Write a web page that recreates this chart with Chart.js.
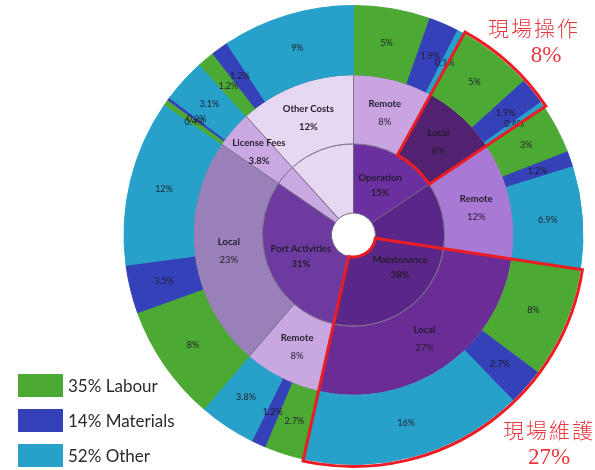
<!DOCTYPE html>
<html lang="zh-Hant">
<head>
<meta charset="UTF-8">
<title>Cost breakdown</title>
<script src="https://cdn.jsdelivr.net/npm/chart.js"></script>
<style>
  body { margin: 0; background: #fff; }
  #wrap { position: relative; width: 595px; height: 470px; overflow: hidden; }
  #chart { position: absolute; left: 0; top: 0; }
  #legend { position: absolute; left: 18px; top: 373px; font-family: Lato, "Open Sans", sans-serif; font-size: 17px; color: #2b2b2b; }
  .item { display: flex; align-items: center; height: 24px; margin-bottom: 11px; }
  .box { width: 45px; height: 23px; margin-right: 5px; }
  .note { position: absolute; color: #e8363e; text-align: center; line-height: 1; }
  .note .zh { font-family: "Noto Sans CJK TC", sans-serif; font-weight: 300; font-size: 21px; letter-spacing: 2px; }
  .note .pc { font-family: "Liberation Serif", serif; font-size: 23px; margin-top: 5px; }
</style>
</head>
<body>
<div id="wrap">
  <canvas id="chart" width="595" height="470"></canvas>
  <div id="legend"></div>
  <div class="note" style="left:484px; top:17px; width:100px;"><div class="zh">現場操作</div><div class="pc" style="padding-left:24px;">8%</div></div>
  <div class="note" style="left:499px; top:419px; width:100px;"><div class="zh">現場維護</div><div class="pc" style="padding-left:0px;">27%</div></div>
</div>

<script>
// inner ring: activities
const innerLabels = ['Operation', 'Maintenance', 'Port Activities', 'License Fees', 'Other Costs'];
const innerValues = [15.6, 37.9, 31.1, 3.7, 11.7];
const innerText = ['15%', '38%', '31%', '', ''];

// middle ring: remote / local split (license fees and other costs run through)
const midLabels = ['Remote', 'Local', 'Remote', 'Local', 'Remote', 'Local', 'License Fees', 'Other Costs'];
const midValues = [8.0, 7.6, 11.8, 26.1, 7.8, 23.3, 3.7, 11.7];
const midText = ['8%', '8%', '12%', '27%', '8%', '23%', '3.8%', '12%'];

// outer ring: labour / materials / other for each middle segment
const costTypes = ['Labour', 'Materials', 'Other'];
const costShares = ['35%', '14%', '52%'];
const outerValues = [5.4, 2.1, 0.5,  5.3, 1.9, 0.4,  3.5, 1.1, 7.2,  7.8, 2.6, 15.7,
                     2.8, 1.0, 4.0,  8.2, 3.4, 11.7,  0.4, 0.2, 3.1,  1.2, 1.2, 9.3];
const outerText = ['5%', '1.9%', '0.1%', '5%', '1.9%', '0.4%', '3%', '1.2%', '6.9%', '8%', '2.7%', '16%',
                   '2.7%', '1.2%', '3.8%', '8%', '3.5%', '12%', '0.4%', '0.2%', '3.1%', '1.2%', '1.2%', '9%'];

const typeColors = ['#4caa34', '#3541b8', '#27a1c9'];
const innerColors = ['#6b2fa0', '#5a2688', '#6d3aa0', '#caa9e2', '#e6d7f2'];
const midColors = ['#c8a5e0', '#52216f', '#a87ad5', '#6a2d96', '#c9a8e1', '#9a80b8', '#caa9e2', '#e6d7f2'];
const outerColors = outerValues.map((v, i) => typeColors[i % 3]);

// legend
const legend = document.getElementById('legend');
costTypes.forEach((t, i) => {
  const row = document.createElement('div');
  row.className = 'item';
  row.innerHTML = '<span class="box" style="background:' + typeColors[i] + '"></span><span>' + costShares[i] + ' ' + t + '</span>';
  legend.appendChild(row);
});

const ringText = {
  id: 'ringText',
  afterDatasetsDraw(chart) {
    const ctx = chart.ctx;
    ctx.save();
    ctx.textAlign = 'center';
    ctx.textBaseline = 'middle';
    ctx.fillStyle = '#221d2c';

    // outer ring
    chart.getDatasetMeta(0).data.forEach((arc, i) => {
      const p = arc.tooltipPosition();
      ctx.font = '9px Lato, sans-serif';
      ctx.fillText(outerText[i], p.x, p.y);
    });
    // middle ring
    chart.getDatasetMeta(1).data.forEach((arc, i) => {
      const p = arc.tooltipPosition();
      const big = i >= 6;
      ctx.font = 'bold 9.5px Lato, sans-serif';
      ctx.fillText(midLabels[i], p.x, p.y - 9);
      ctx.font = (big ? 'bold ' : '') + '9.5px Lato, sans-serif';
      ctx.fillText(midText[i], p.x, p.y + 9);
    });
    // inner ring
    chart.getDatasetMeta(2).data.forEach((arc, i) => {
      if (!innerText[i]) return;
      const p = arc.tooltipPosition();
      ctx.font = 'bold 9.5px Lato, sans-serif';
      ctx.fillText(innerLabels[i], p.x, p.y - 7);
      ctx.fillText(innerText[i], p.x, p.y + 8);
    });
    ctx.restore();
  }
};

// red outlines round the local operation and local maintenance wedges
const redOutline = {
  id: 'redOutline',
  afterDraw(chart) {
    const ctx = chart.ctx;
    const outer = chart.getDatasetMeta(0).data[0];
    const mid = chart.getDatasetMeta(1).data;
    const inner = chart.getDatasetMeta(2).data[0];
    const rOut = outer.outerRadius + 2;
    const shapes = [
      [mid[1], mid[1].innerRadius],
      [mid[3], inner.innerRadius]
    ];
    ctx.save();
    ctx.strokeStyle = '#ec1c24';
    ctx.lineWidth = 3;
    ctx.lineJoin = 'miter';
    shapes.forEach(([arc, r0]) => {
      ctx.beginPath();
      ctx.arc(arc.x, arc.y, rOut, arc.startAngle, arc.endAngle);
      ctx.arc(arc.x, arc.y, r0, arc.endAngle, arc.startAngle, true);
      ctx.closePath();
      ctx.stroke();
    });
    ctx.restore();
  }
};

new Chart(document.getElementById('chart'), {
  type: 'doughnut',
  data: {
    labels: outerText,
    datasets: [
      { data: outerValues, backgroundColor: outerColors, borderColor: outerColors, borderWidth: 1 },
      { data: midValues, backgroundColor: midColors, borderColor: '#80738f', borderWidth: 1 },
      { data: innerValues, backgroundColor: innerColors, borderColor: '#6f6480', borderWidth: 1 }
    ]
  },
  options: {
    responsive: false,
    animation: false,
    cutout: 22,
    hoverOffset: 0,
    layout: { padding: { left: 123, right: 11, top: 5, bottom: 5 } },
    plugins: { legend: { display: false }, tooltip: { enabled: false } }
  },
  plugins: [ringText, redOutline]
});
</script>
</body>
</html>
